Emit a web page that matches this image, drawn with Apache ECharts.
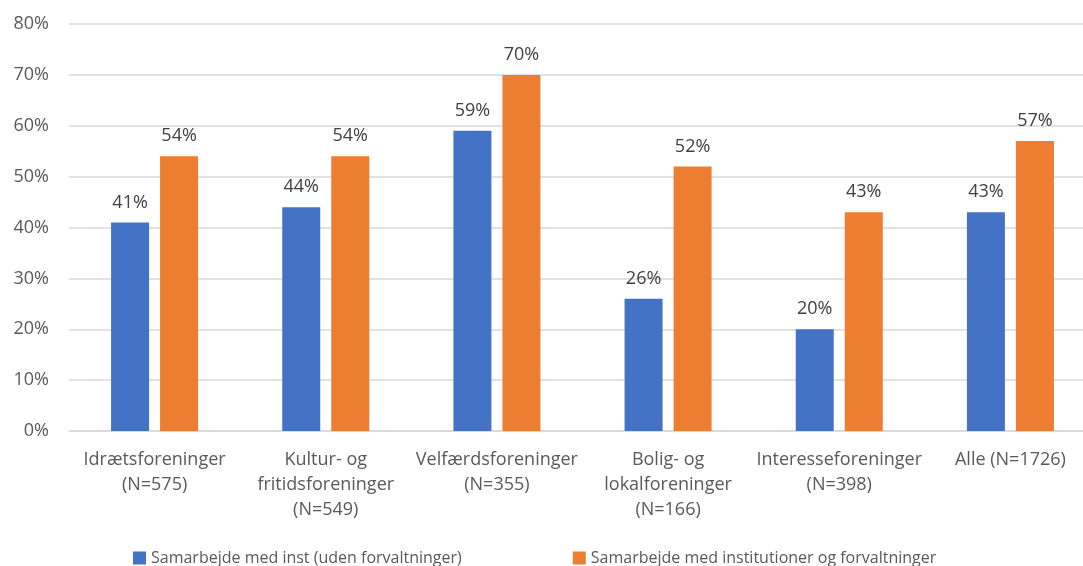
<!DOCTYPE html>
<html>
<head>
<meta charset="utf-8">
<script src="https://cdn.jsdelivr.net/npm/echarts@6/dist/echarts.min.js"></script>
<style>
  html, body { margin: 0; padding: 0; background: #fff; }
  #main { width: 1083px; height: 566px; }
</style>
</head>
<body>
<div id="main"></div>
<script>
var categories = [
    'Idrætsforeninger\n(N=575)',
    'Kultur- og\nfritidsforeninger\n(N=549)',
    'Velfærdsforeninger\n(N=355)',
    'Bolig- og\nlokalforeninger\n(N=166)',
    'Interesseforeninger\n(N=398)',
    'Alle (N=1726)'
]
var udenForv = [41, 44, 59, 26, 20, 43]
var medForv = [54, 54, 70, 52, 43, 57]
var seriesNames = [
    'Samarbejde med inst (uden forvaltninger)',
    'Samarbejde med institutioner og forvaltninger'
]

var font = 'Open Sans'
var myChart = echarts.init(document.getElementById('main'))

let label = {
    show: true,
    position: 'top',
    distance: 11,
    color: '#404040',
    fontSize: 18,
    fontFamily: font,
    formatter: '{c}%'
}

myChart.setOption({
    animation: false,
    grid: {
        left: 69,
        width: 1027,
        top: 24,
        bottom: 135,
        outerBoundsMode: 'none',
        containLabel: false
    },
    legend: {
        left: 128,
        top: 545,
        itemWidth: 13,
        itemHeight: 13,
        itemGap: 111,
        icon: 'rect',
        textStyle: { color: '#595959', fontSize: 16, fontFamily: font },
        data: seriesNames
    },
    xAxis: {
        type: 'category',
        data: categories,
        axisLine: { lineStyle: { color: '#d9d9d9', width: 1.5 } },
        axisTick: { show: false },
        axisLabel: {
            color: '#595959',
            fontSize: 18,
            fontFamily: font,
            lineHeight: 25,
            margin: 16,
            interval: 0
        }
    },
    yAxis: {
        type: 'value',
        min: 0,
        max: 80,
        interval: 10,
        axisLine: { show: false },
        axisTick: { show: false },
        splitLine: { lineStyle: { color: '#d9d9d9', width: 1.5 } },
        axisLabel: {
            color: '#595959',
            fontSize: 18,
            fontFamily: font,
            margin: 20,
            formatter: '{value}%'
        }
    },
    series: [{
        name: seriesNames[0],
        type: 'bar',
        data: udenForv,
        barWidth: 38,
        barGap: '29%',
        itemStyle: { color: '#4472C4' },
        label: label
    }, {
        name: seriesNames[1],
        type: 'bar',
        data: medForv,
        barWidth: 38,
        itemStyle: { color: '#ED7D31' },
        label: label
    }]
})
</script>
</body>
</html>
